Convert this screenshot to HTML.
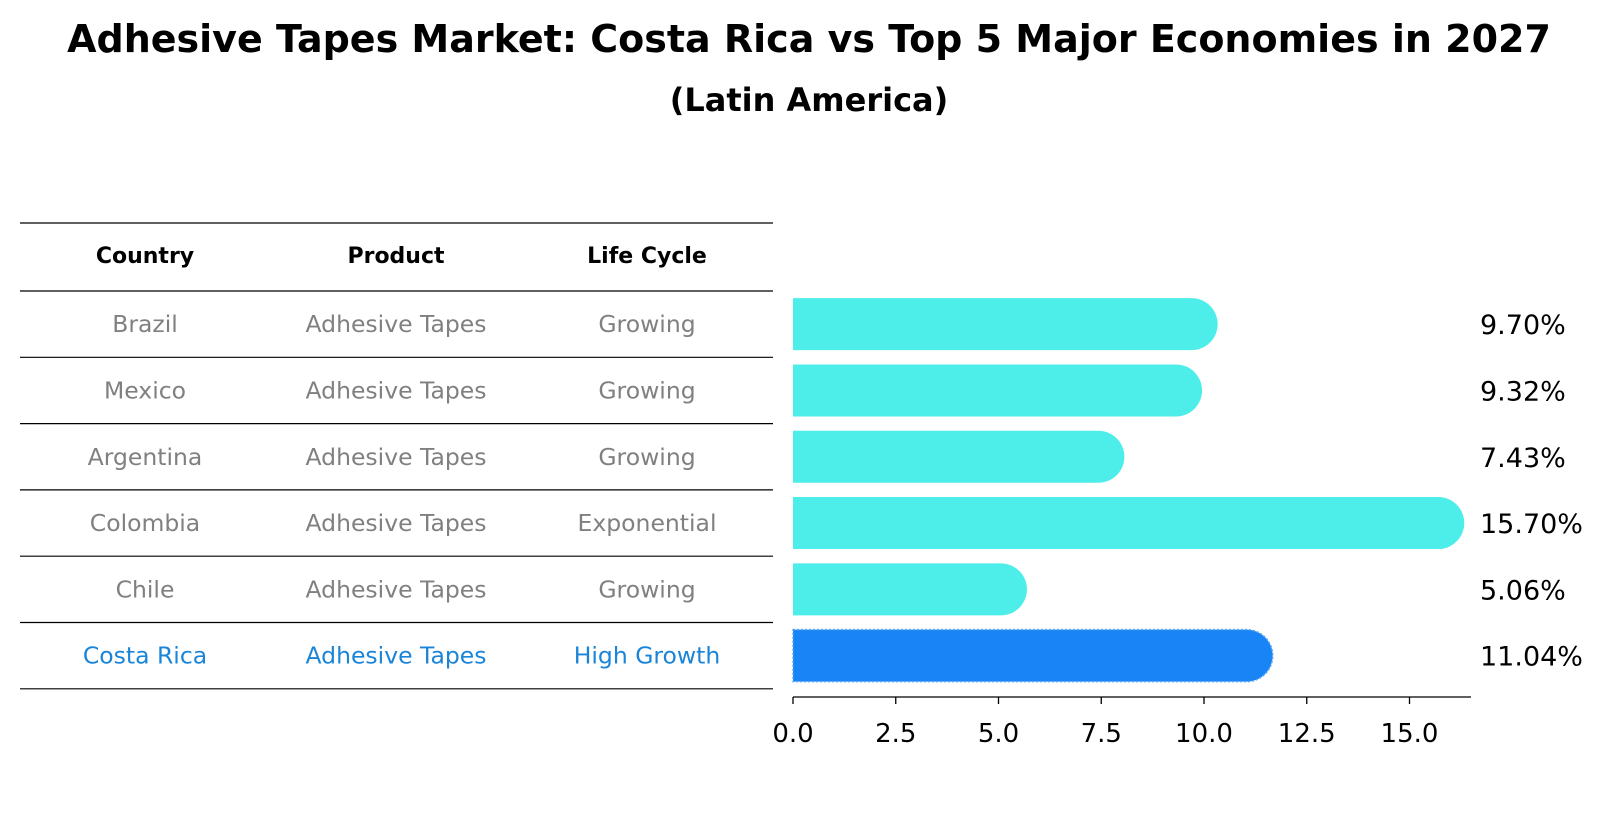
<!DOCTYPE html>
<html><head><meta charset="utf-8"><style>
body{margin:0;background:#fff;}
svg{display:block;font-family:"DejaVu Sans","Liberation Sans",sans-serif;}
</style></head><body>
<svg id="chart" width="1604" height="823" viewBox="0 0 1604 823">
<text x="809" y="52" text-anchor="middle" font-size="38" font-weight="bold">Adhesive Tapes Market: Costa Rica vs Top 5 Major Economies in 2027</text>
<text x="809" y="111" text-anchor="middle" font-size="32" font-weight="bold">(Latin America)</text>
<g id="table"></g>
<g id="bars"></g>
<g id="axis"></g>
</svg>
<script>
const countries = ["Brazil","Mexico","Argentina","Colombia","Chile","Costa Rica"];
const products = ["Adhesive Tapes","Adhesive Tapes","Adhesive Tapes","Adhesive Tapes","Adhesive Tapes","Adhesive Tapes"];
const lifeCycles = ["Growing","Growing","Growing","Exponential","Growing","High Growth"];
const values = [9.70, 9.32, 7.43, 15.70, 5.06, 11.04];
const valueLabels = ["9.70%","9.32%","7.43%","15.70%","5.06%","11.04%"];
const xTicks = [0, 2.5, 5, 7.5, 10, 12.5, 15];
const tickLabels = ["0.0","2.5","5.0","7.5","10.0","12.5","15.0"];

const NS = "http://www.w3.org/2000/svg";
function mk(tag, attrs, parent){const e=document.createElementNS(NS,tag);for(const k in attrs)e.setAttribute(k,attrs[k]);parent.appendChild(e);return e;}
const x0 = 793, pxPerUnit = 41.1;
const xScale = v => x0 + v * pxPerUnit;
const rowTop = 291, rowH = 66.3;
const yCenter = i => rowTop + rowH * i + rowH / 2;

const tbl = document.getElementById('table');
const colX = [145, 396, 647];
const headers = ["Country","Product","Life Cycle"];
headers.forEach((h,j)=>{
  const t = mk('text',{x:colX[j],y:263,'text-anchor':'middle','font-size':'22','font-weight':'bold',fill:'#000'},tbl);
  
  
  t.textContent = h;
});
const lineYs = [223];
for(let i=0;i<=countries.length;i++) lineYs.push(rowTop + rowH*i);
lineYs.forEach((y)=>{
  const l = mk('line',{x1:20,x2:773,y1:y,y2:y,stroke:'#000','stroke-width':'1.2'},tbl);
  
  
});
countries.forEach((c,i)=>{
  const col = i===countries.length-1 ? '#1a85d8' : '#808080';
  [c, products[i], lifeCycles[i]].forEach((txt,j)=>{
    const t = mk('text',{x:colX[j],y:yCenter(i)+8,'text-anchor':'middle','font-size':'23.5',fill:col},tbl);
    
    
    t.textContent = txt;
  });
});

const bars = document.getElementById('bars');
const bh = 52;
values.forEach((v,i)=>{
  const isCR = i===values.length-1;
  const color = isCR ? '#1984f5' : '#4deeea';
  const yc = yCenter(i);
  const xe = xScale(v);
  const p = mk('path',{d:`M${x0},${yc-bh/2} L${xe},${yc-bh/2} A${bh/2},${bh/2} 0 0 1 ${xe},${yc+bh/2} L${x0},${yc+bh/2} Z`,fill:color},bars);
  if(isCR){p.setAttribute('stroke','#5aa8f5');p.setAttribute('stroke-width','1.5');p.setAttribute('stroke-dasharray','2,2');}
  
  
  const t = mk('text',{x:1480,y:yc+10,'font-size':'27',fill:'#000'},bars);
  
  
  t.textContent = valueLabels[i];
});

const ax = document.getElementById('axis');
const axY = 697;
const al = mk('line',{x1:x0,x2:1471,y1:axY,y2:axY,stroke:'#000','stroke-width':'1.3'},ax);


xTicks.forEach((v,k)=>{
  const l = mk('line',{x1:xScale(v),x2:xScale(v),y1:axY,y2:axY+7,stroke:'#000','stroke-width':'1.3'},ax);
  
  
  const t = mk('text',{x:xScale(v),y:axY+45,'text-anchor':'middle','font-size':'26',fill:'#000'},ax);
  
  
  t.textContent = tickLabels[k];
});
</script>
</body></html>
